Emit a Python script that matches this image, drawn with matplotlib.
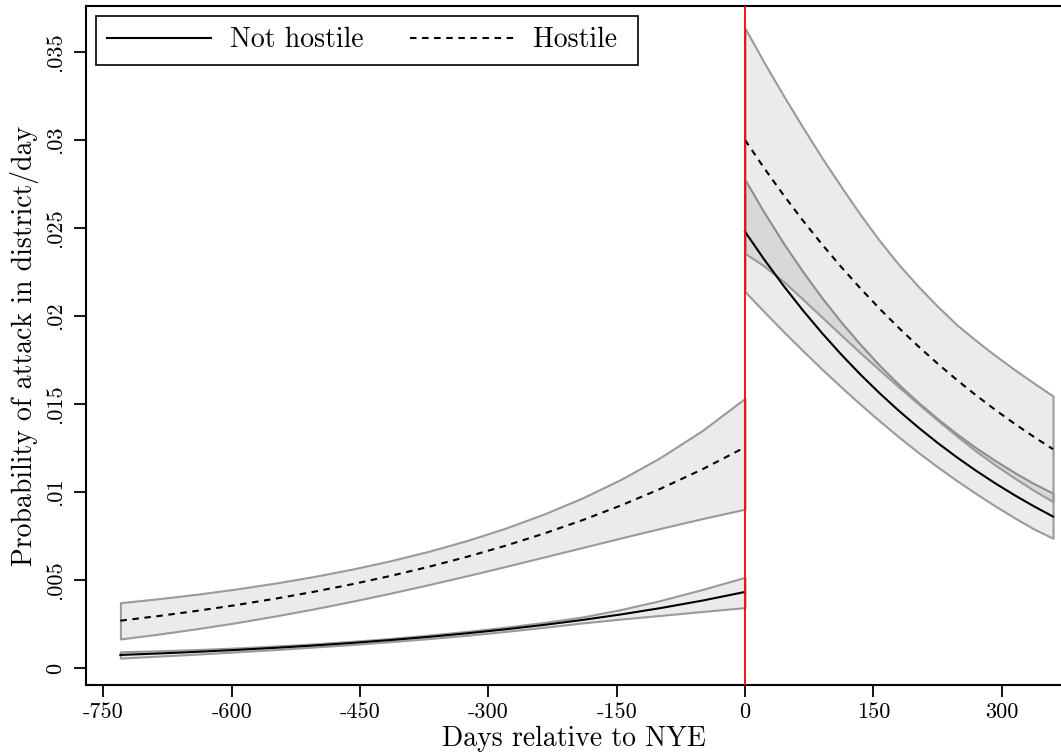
import matplotlib
matplotlib.use('Agg')
import matplotlib.pyplot as plt
from matplotlib.lines import Line2D

plt.rcParams['font.family'] = 'cmr10'
plt.rcParams['mathtext.fontset'] = 'cm'
plt.rcParams['axes.unicode_minus'] = False
plt.rcParams['axes.formatter.use_mathtext'] = True

# ---------------- data ----------------
pre_days = [-730, -685, -640, -595, -550, -505, -460, -415, -370, -325, -280, -235, -190, -145, -100, -50, 0]
post_days = [0, 22.5, 45, 67.5, 90, 112.5, 135, 157.5, 180, 202.5, 225, 247.5, 270, 292.5, 315, 337.5, 360]

# Not hostile, before NYE
nh_pre_mean = [0.000741, 0.000826, 0.000920, 0.001026, 0.001144, 0.001275, 0.001422, 0.001585, 0.001767,
               0.001970, 0.002196, 0.002448, 0.002730, 0.003043, 0.003393, 0.003828, 0.00432]
nh_pre_hi = [0.000921, 0.000976, 0.00105, 0.001136, 0.001244, 0.001365, 0.001512, 0.001675, 0.001867,
             0.00208, 0.002316, 0.00259, 0.0029, 0.00332, 0.00382, 0.00446, 0.00515]
nh_pre_lo = [0.000561, 0.000676, 0.00079, 0.000916, 0.001044, 0.001185, 0.001332, 0.001495, 0.001667,
             0.00186, 0.002076, 0.00231, 0.00256, 0.00278, 0.00298, 0.00321, 0.00343]

# Hostile, before NYE
h_pre_mean = [0.002688, 0.002955, 0.003250, 0.003573, 0.003929, 0.004320, 0.004751, 0.005224, 0.005745,
              0.006316, 0.006946, 0.007637, 0.008399, 0.009234, 0.010155, 0.011285, 0.01254]
h_pre_hi = [0.003710, 0.003938, 0.004195, 0.004486, 0.004815, 0.005187, 0.005608, 0.006084, 0.006625,
            0.007241, 0.007943, 0.008745, 0.009663, 0.010716, 0.011927, 0.01349, 0.01532]
h_pre_lo = [0.001650, 0.001926, 0.002234, 0.002573, 0.002945, 0.003348, 0.003782, 0.004245, 0.004732,
            0.005241, 0.005767, 0.006304, 0.006847, 0.007386, 0.007917, 0.008486, 0.009023]

# Not hostile, after NYE
nh_post_mean = [0.024790, 0.023203, 0.021718, 0.020328, 0.019027, 0.017809, 0.016669, 0.015602, 0.014603,
                0.013668, 0.012793, 0.011974, 0.011208, 0.010491, 0.009819, 0.009191, 0.008603]
nh_post_hi = [0.02774, 0.025871, 0.024129, 0.022523, 0.021025, 0.019643, 0.018369, 0.017178, 0.016092,
              0.015089, 0.014162, 0.013303, 0.012508, 0.011781, 0.011105, 0.010478, 0.00993]
nh_post_lo = [0.02138, 0.020233, 0.019112, 0.018031, 0.016972, 0.015957, 0.014969, 0.014026, 0.013113,
              0.012247, 0.011424, 0.010645, 0.009908, 0.009201, 0.008533, 0.007904, 0.00737]

# Hostile, after NYE
h_post_mean = [0.030000, 0.028393, 0.026872, 0.025432, 0.024070, 0.022780, 0.021560, 0.020405, 0.019312,
               0.018277, 0.017298, 0.016371, 0.015494, 0.014664, 0.013879, 0.013135, 0.012432]
h_post_hi = [0.03635, 0.034384, 0.032515, 0.030722, 0.028980, 0.027336, 0.025743, 0.024262, 0.022904,
             0.021677, 0.020550, 0.01950, 0.01860, 0.01775, 0.01695, 0.01619, 0.01545]
h_post_lo = [0.02356, 0.022828, 0.021954, 0.020956, 0.019930, 0.018907, 0.017895, 0.016916, 0.015952,
             0.015005, 0.014081, 0.013179, 0.012318, 0.011530, 0.010790, 0.010090, 0.00945]

xticks = [-750, -600, -450, -300, -150, 0, 150, 300]
xticklabels = ['-750', '-600', '-450', '-300', '-150', '0', '150', '300']
yticks = [0, 0.005, 0.01, 0.015, 0.02, 0.025, 0.03, 0.035]
yticklabels = ['0', '.005', '.01', '.015', '.02', '.025', '.03', '.035']
series_labels = ['Not hostile', 'Hostile ']

# ---------------- figure ----------------
W, H = 1061, 753
fig = plt.figure(figsize=(W / 100, H / 100), dpi=100)
ax = fig.add_axes([86 / W, 68 / H, 975 / W, 679 / H])

face = (0, 0, 0, 0.08)
edge = '#9a9a9a'
dash = (0, (3.1, 2.7))

bands = [
    (pre_days, nh_pre_lo, nh_pre_hi),
    (pre_days, h_pre_lo, h_pre_hi),
    (post_days, nh_post_lo, nh_post_hi),
    (post_days, h_post_lo, h_post_hi),
]
for d, lo, hi in bands:
    ax.fill_between(d, lo, hi, facecolor=face, edgecolor=edge, linewidth=1.5, zorder=1)

ax.plot(pre_days, nh_pre_mean, color='k', lw=1.5, zorder=3)
ax.plot(post_days, nh_post_mean, color='k', lw=1.5, zorder=3)
ax.plot(pre_days, h_pre_mean, color='k', lw=1.5, ls=dash, zorder=3)
ax.plot(post_days, h_post_mean, color='k', lw=1.5, ls=dash, zorder=3)

ax.axvline(0, color='red', lw=1.3, zorder=4)

ax.set_xlim(-770.2, 369.3)
ax.set_ylim(-0.000966, 0.03761)

ax.set_xticks(xticks)
ax.set_xticklabels(xticklabels)
ax.set_yticks(yticks)
ax.set_yticklabels(yticklabels, rotation=90, va='center')
ax.tick_params(axis='both', length=8.5, width=1.3, direction='out', labelsize=16, color='k')
ax.tick_params(axis='x', pad=4)
ax.tick_params(axis='y', pad=6.5)

for s in ['left', 'bottom', 'top']:
    ax.spines[s].set_linewidth(1.5)
ax.spines['right'].set_visible(False)

ax.set_xlabel('Days relative to NYE', fontsize=20, labelpad=3)
ax.set_ylabel('Probability of attack in district/day', fontsize=20, labelpad=5)

handles = [Line2D([], [], color='k', lw=1.5), Line2D([], [], color='k', lw=1.5, ls=dash)]
leg = ax.legend(handles, series_labels, ncol=2, loc='upper left',
                bbox_to_anchor=(10 / 975, (685 - 16) / 679), borderaxespad=0,
                fontsize=20, handlelength=3.75, handletextpad=0.68, columnspacing=1.68,
                borderpad=0.4, frameon=True, fancybox=False, edgecolor='k', framealpha=1)
leg.get_frame().set_linewidth(1.2)

fig.savefig('out.png', dpi=100)
